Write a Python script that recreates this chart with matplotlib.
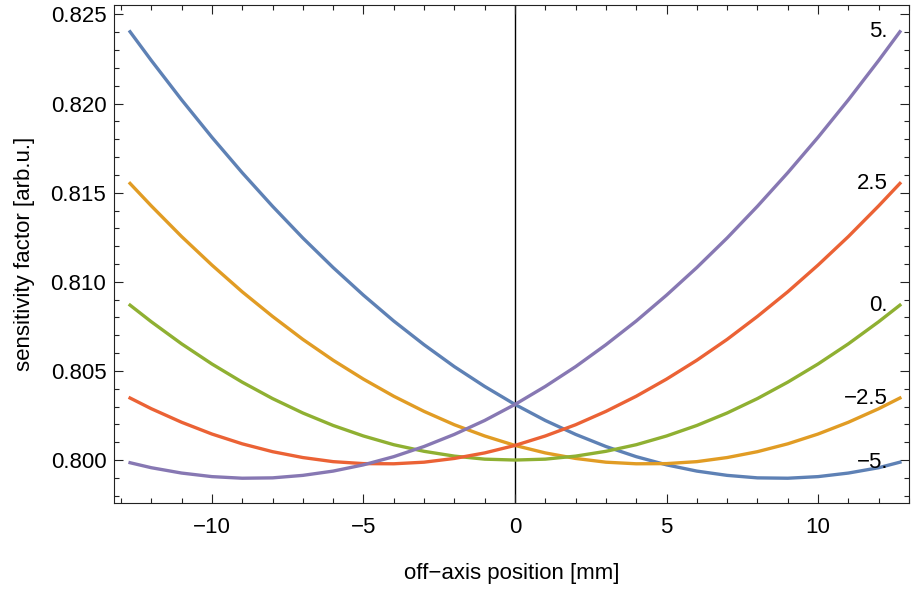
import matplotlib
matplotlib.use("Agg")
import matplotlib.pyplot as plt
from matplotlib.ticker import MultipleLocator, FormatStrFormatter

plt.rcParams["font.family"] = ["Liberation Sans", "DejaVu Sans"]

# off-axis position [mm]
x_mm = [-12.7, -12, -11, -10, -9, -8, -7, -6, -5, -4, -3, -2, -1, 0,
        1, 2, 3, 4, 5, 6, 7, 8, 9, 10, 11, 12, 12.7]

# sensitivity factor per offset
s_m5 = [0.82403, 0.82242, 0.82021, 0.81811, 0.81612, 0.81424, 0.81246, 0.81080, 0.80925,
        0.80780, 0.80647, 0.80524, 0.80413, 0.80312, 0.80222, 0.80144, 0.80076, 0.80019,
        0.79973, 0.79938, 0.79914, 0.79900, 0.79898, 0.79907, 0.79927, 0.79957, 0.79988]
s_m25 = [0.81552, 0.81426, 0.81254, 0.81094, 0.80944, 0.80806, 0.80677, 0.80560, 0.80454,
         0.80358, 0.80273, 0.80198, 0.80135, 0.80082, 0.80040, 0.80009, 0.79988, 0.79979,
         0.79980, 0.79991, 0.80014, 0.80047, 0.80091, 0.80146, 0.80212, 0.80288, 0.80348]
s_0 = [0.80869, 0.80776, 0.80652, 0.80539, 0.80437, 0.80345, 0.80264, 0.80194, 0.80135,
       0.80086, 0.80049, 0.80022, 0.80005, 0.80000, 0.80005, 0.80022, 0.80049, 0.80086,
       0.80135, 0.80194, 0.80264, 0.80345, 0.80437, 0.80539, 0.80652, 0.80776, 0.80869]
s_p25 = [0.80348, 0.80288, 0.80212, 0.80146, 0.80091, 0.80047, 0.80014, 0.79991, 0.79980,
         0.79979, 0.79988, 0.80009, 0.80040, 0.80082, 0.80135, 0.80198, 0.80273, 0.80358,
         0.80454, 0.80560, 0.80677, 0.80806, 0.80944, 0.81094, 0.81254, 0.81426, 0.81552]
s_p5 = [0.79985, 0.79957, 0.79927, 0.79907, 0.79898, 0.79900, 0.79914, 0.79938, 0.79973,
        0.80019, 0.80076, 0.80144, 0.80222, 0.80312, 0.80413, 0.80524, 0.80647, 0.80780,
        0.80925, 0.81080, 0.81246, 0.81424, 0.81612, 0.81811, 0.82021, 0.82242, 0.82403]

curve_labels = ["\u22125.", "\u22122.5", "0.", "2.5", "5."]
curves = [s_m5, s_m25, s_0, s_p25, s_p5]
colors = ["#5E81B5", "#E19C24", "#8FB032", "#EB6235", "#8778B3"]

fs = 16
frame_col = "#222222"

fig = plt.figure(figsize=(9.11, 5.90), dpi=100)
ax = fig.add_axes([114 / 911, 1 - 503 / 590, 795 / 911, 498 / 590])

ax.axvline(0, color="black", lw=1.0, zorder=1)

for lab, vals, col in zip(curve_labels, curves, colors):
    ax.plot(x_mm, vals, color=col, lw=2.4, solid_joinstyle="round", zorder=2)
    ax.annotate(lab, xy=(x_mm[-1], vals[-1]), xytext=(-12, 0),
                textcoords="offset pixels", ha="right", va="center",
                fontsize=fs, color="black", zorder=3)

ax.set_xlim(-13.23, 13.0)
ax.set_ylim(0.79759, 0.82553)

ax.xaxis.set_major_locator(MultipleLocator(5))
ax.xaxis.set_minor_locator(MultipleLocator(1))
ax.yaxis.set_major_locator(MultipleLocator(0.005))
ax.yaxis.set_minor_locator(MultipleLocator(0.001))
ax.yaxis.set_major_formatter(FormatStrFormatter("%.3f"))

ax.tick_params(which="both", direction="in", top=True, right=True,
               color=frame_col, width=0.8, labelsize=fs)
ax.tick_params(which="major", length=6.5)
ax.tick_params(which="minor", length=3.6)
ax.tick_params(axis="y", pad=5.5)
ax.tick_params(axis="x", pad=10)

for sp in ax.spines.values():
    sp.set_color(frame_col)
    sp.set_linewidth(0.8)

ax.set_xlabel("off\u2212axis position [mm]", fontsize=fs, labelpad=18)
ax.set_ylabel("sensitivity factor [arb.u.]", fontsize=fs, labelpad=11)

fig.savefig("out.png", dpi=100)
